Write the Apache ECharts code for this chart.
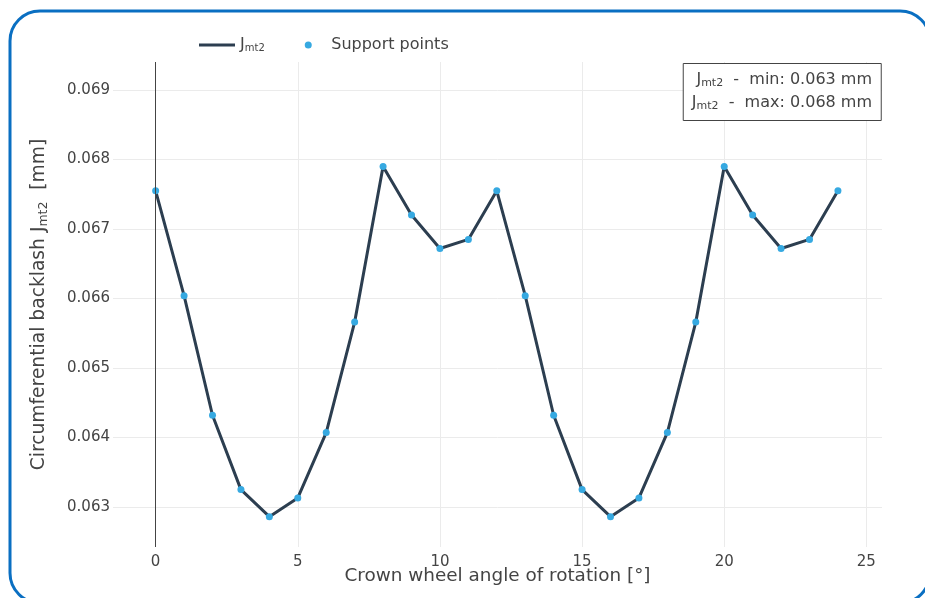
<!DOCTYPE html>
<html>
<head>
<meta charset="utf-8">
<script src="https://cdn.jsdelivr.net/npm/echarts@6/dist/echarts.min.js"></script>
<style>
html,body{margin:0;padding:0;background:#fff;}
#chart{width:925px;height:598px;}
</style>
</head>
<body>
<div id="chart"></div>
<script>
// Crown wheel angle of rotation [°]
const angles = [0,1,2,3,4,5,6,7,8,9,10,11,12,13,14,15,16,17,18,19,20,21,22,23,24];
// Circumferential backlash Jmt2 [mm]
const backlash = [
  0.06755,0.06604,0.06432,0.06325,0.06286,0.06313,0.06407,0.06566,0.06790,0.06720,0.06672,0.06685,
  0.06755,0.06604,0.06432,0.06325,0.06286,0.06313,0.06407,0.06566,0.06790,0.06720,0.06672,0.06685,
  0.06755
];
const seriesNames = ['Jmt2', 'Support points'];
const xTicks = [0,5,10,15,20,25];

const FONT = 'DejaVu Sans';
const TXT = '#444';
const points = angles.map((a, i) => [a, backlash[i]]);
const minVal = Math.min(...backlash).toFixed(3);
const maxVal = Math.max(...backlash).toFixed(3);

const chart = echarts.init(document.getElementById('chart'), null, {renderer: 'canvas'});
const boxRich = {
  b: {fontFamily: FONT, fontSize: 16, color: TXT, align: 'right'},
  s: {fontFamily: FONT, fontSize: 11, color: TXT, align: 'right', padding: [7, 0, 0, 0]}
};
const legRich = {
  b: {fontFamily: FONT, fontSize: 16, color: TXT},
  s: {fontFamily: FONT, fontSize: 10, color: TXT, padding: [7, 0, 0, 0]}
};
chart.setOption({
  animation: false,
  backgroundColor: '#fff',
  textStyle: {fontFamily: FONT},
  graphic: [{
    type: 'rect', z: 100, silent: true,
    shape: {x: 10, y: 11, width: 920, height: 592, r: 30},
    style: {fill: 'none', stroke: '#0a6fc2', lineWidth: 3}
  }],
  title: {
    right: 44, top: 63,
    text: '{b|J}{s|mt2}{b|  -  min: ' + minVal + ' mm}\n{b|J}{s|mt2}{b|  -  max: ' + maxVal + ' mm}',
    padding: [5, 9, 7, 9],
    borderColor: '#444', borderWidth: 1, backgroundColor: '#fff',
    textStyle: {fontFamily: FONT, fontSize: 16, color: TXT, fontWeight: 'normal', lineHeight: 23, rich: boxRich}
  },
  legend: {
    left: 199, top: 37, padding: 0,
    itemWidth: 36, itemHeight: 7, itemGap: 40,
    symbolKeepAspect: true,
    data: [
      {name: seriesNames[0], icon: 'path://M0,0L36,0L36,3L0,3Z', itemStyle: {color: '#2c3e50'}},
      {name: seriesNames[1], icon: 'circle'}
    ],
    formatter: n => n === seriesNames[0] ? '{b|J}{s|mt2}' : '{b|' + n + '}',
    textStyle: {fontFamily: FONT, fontSize: 16, color: TXT, rich: legRich}
  },
  grid: {left: 113, right: 43, top: 62, bottom: 51, containLabel: false},
  xAxis: {
    type: 'value', min: -1.5, max: 25.55,
    name: 'Crown wheel angle of rotation [°]',
    nameLocation: 'middle', nameGap: 20, nameMoveOverlap: false,
    nameTextStyle: {fontFamily: FONT, fontSize: 18.4, color: TXT},
    axisLine: {show: false}, axisTick: {show: false},
    axisLabel: {
      showMinLabel: false, showMaxLabel: false, margin: 8,
      fontFamily: FONT, fontSize: 15, color: TXT,
      formatter: v => xTicks.includes(v) ? String(v) : ''
    },
    splitLine: {show: true, showMinLine: false, showMaxLine: false, lineStyle: {color: '#ebebeb', width: 1}}
  },
  yAxis: {
    type: 'value', min: 0.062424, max: 0.069403,
    minInterval: 0.001, maxInterval: 0.001,
    name: '{b|Circumferential backlash J}{s|mt2}{b|  [mm]}',
    nameLocation: 'middle', nameGap: 63, nameRotate: 90, nameMoveOverlap: false,
    nameTextStyle: {fontFamily: FONT, fontSize: 18.7, color: TXT, rich: {
      b: {fontFamily: FONT, fontSize: 18.7, color: TXT},
      s: {fontFamily: FONT, fontSize: 12.5, color: TXT, padding: [8, 0, 0, 0]}
    }},
    axisLine: {show: false}, axisTick: {show: false},
    axisLabel: {
      showMinLabel: false, showMaxLabel: false, margin: 3,
      fontFamily: FONT, fontSize: 15, color: TXT,
      formatter: v => v.toFixed(3)
    },
    splitLine: {show: true, showMinLine: false, showMaxLine: false, lineStyle: {color: '#ebebeb', width: 1}}
  },
  series: [
    {
      name: seriesNames[0], type: 'line', data: points,
      showSymbol: false, symbol: 'none',
      lineStyle: {color: '#2c3e50', width: 3},
      itemStyle: {color: '#2c3e50'},
      z: 3,
      markLine: {
        silent: true, symbol: 'none', label: {show: false},
        lineStyle: {color: '#444', width: 1, type: 'solid'},
        data: [{xAxis: 0}]
      }
    },
    {
      name: seriesNames[1], type: 'scatter', data: points,
      symbol: 'circle', symbolSize: 7,
      itemStyle: {color: '#36a9e1', opacity: 1},
      z: 4
    }
  ]
});
</script>
</body>
</html>
